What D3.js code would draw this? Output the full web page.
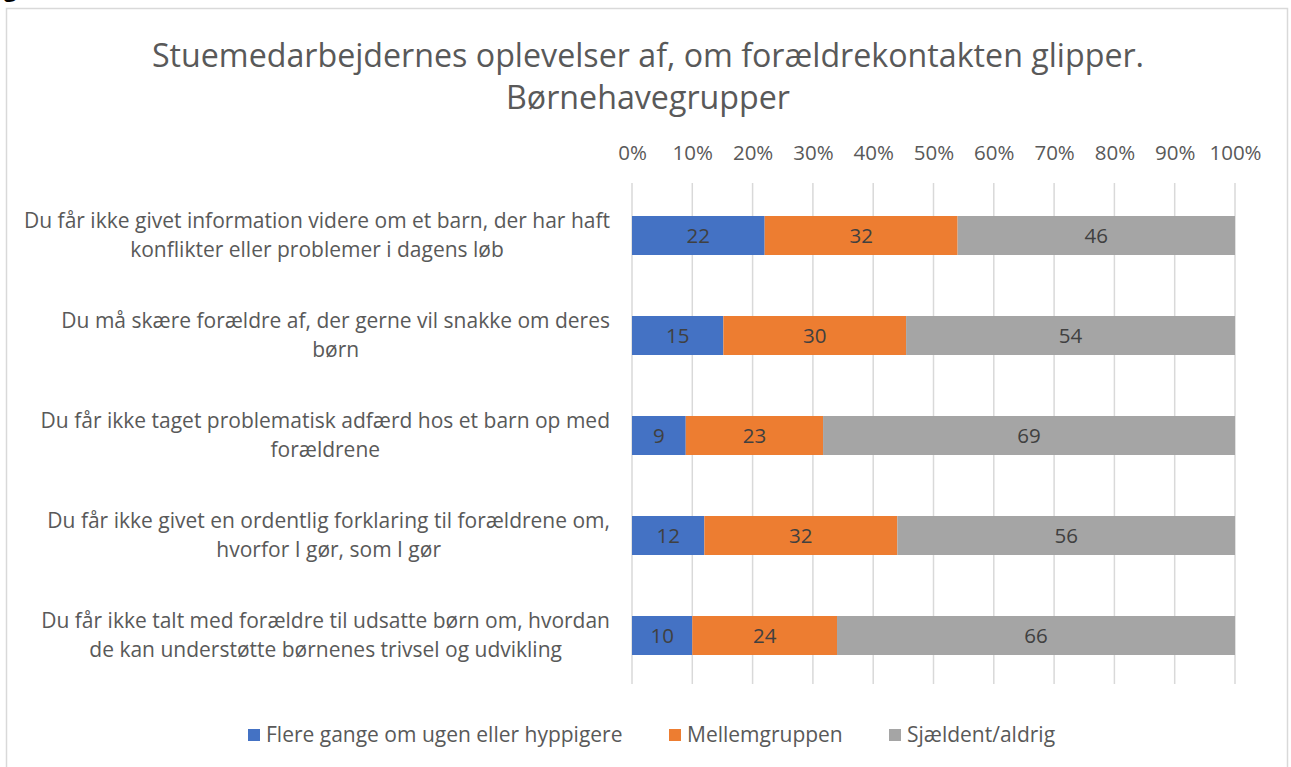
<!DOCTYPE html>
<html>
<head>
<meta charset="utf-8">
<script src="https://cdn.jsdelivr.net/npm/d3@7"></script>
<style>
  body { margin: 0; background: #fff; }
  text { font-family: "Open Sans", "Liberation Sans", Arial, sans-serif; }
</style>
</head>
<body>
<svg id="chart" width="1291" height="767"></svg>
<script>
const categories = [
  ["Du får ikke givet information videre om et barn, der har haft", "konflikter eller problemer i dagens løb"],
  ["Du må skære forældre af, der gerne vil snakke om deres", "børn"],
  ["Du får ikke taget problematisk adfærd hos et barn op med", "forældrene"],
  ["Du får ikke givet en ordentlig forklaring til forældrene om,", "hvorfor I gør, som I gør"],
  ["Du får ikke talt med forældre til udsatte børn om, hvordan", "de kan understøtte børnenes trivsel og udvikling"]
];
const seriesNames = ["Flere gange om ugen eller hyppigere", "Mellemgruppen", "Sjældent/aldrig"];
const often = [22, 15, 9, 12, 10];
const middle = [32, 30, 23, 32, 24];
const rarely = [46, 54, 69, 56, 66];
const ticks = [0, 0.1, 0.2, 0.3, 0.4, 0.5, 0.6, 0.7, 0.8, 0.9, 1];
const colors = ["#4472c4", "#ed7d31", "#a5a5a5"];

const svg = d3.select("#chart");

// outer frame
svg.append("rect").attr("x", 6.5).attr("y", 8.5).attr("width", 1281).attr("height", 780)
  .attr("fill", "#fff").attr("stroke", "#d9d9d9").attr("stroke-width", 1.5);

// cut-off caption above the frame
svg.append("text").attr("x", 4).attr("y", -3).attr("font-size", 22).attr("font-weight", "bold")
  .attr("fill", "#000").text("g");

// title
const title = svg.append("text").attr("text-anchor", "middle").attr("fill", "#595959").attr("font-size", 32.2);
title.append("tspan").attr("x", 648).attr("y", 67).text("Stuemedarbejdernes oplevelser af, om forældrekontakten glipper.");
title.append("tspan").attr("x", 648).attr("y", 109).text("Børnehavegrupper");

const rows = categories.map((c, i) => ({ idx: i, s0: often[i], s1: middle[i], s2: rarely[i] }));
const stack = d3.stack().keys(["s0", "s1", "s2"]).offset(d3.stackOffsetExpand);
const stacked = stack(rows);

const x = d3.scaleLinear().domain([0, 1]).range([632, 1235]);
const y = d3.scaleBand().domain(d3.range(categories.length)).range([185, 686]).paddingInner(0.61).paddingOuter(0.31);

// gridlines
svg.append("g").selectAll("line").data(ticks).join("line")
  .attr("x1", d => x(d)).attr("x2", d => x(d))
  .attr("y1", 183).attr("y2", 684)
  .attr("stroke", "#d9d9d9").attr("stroke-width", 1.5);

// top axis labels
const axis = d3.axisTop(x).tickValues(ticks).tickFormat(d3.format(".0%")).tickSize(0);
const ag = svg.append("g").attr("transform", "translate(0,163)").call(axis);
ag.select(".domain").remove();
ag.selectAll("text").attr("fill", "#595959").attr("font-size", 20.5).attr("dy", 0)
  .style("font-family", "'Open Sans', 'Liberation Sans', Arial, sans-serif");

// bars
const layers = svg.append("g").selectAll("g").data(stacked).join("g").attr("fill", (d, i) => colors[i]);
layers.selectAll("rect").data(d => d).join("rect")
  .attr("x", d => x(d[0])).attr("width", d => x(d[1]) - x(d[0]))
  .attr("y", d => y(d.data.idx)).attr("height", y.bandwidth());

// data labels
stacked.forEach((layer, si) => {
  svg.append("g").selectAll("text").data(layer).join("text")
    .attr("x", d => (x(d[0]) + x(d[1])) / 2)
    .attr("y", d => y(d.data.idx) + y.bandwidth() / 2 + 7.5)
    .attr("text-anchor", "middle").attr("font-size", 20.5).attr("fill", "#404040")
    .text(d => d.data["s" + si]);
});

// category labels, second line centred under the first
const cat = svg.append("g").selectAll("text").data(categories).join("text")
  .attr("font-size", 21).attr("fill", "#595959");
cat.each(function (lines, i) {
  const cy = y(i) + y.bandwidth() / 2;
  const t = d3.select(this);
  const first = t.append("tspan").attr("text-anchor", "end").attr("x", 610).attr("y", cy - 8).text(lines[0]);
  const w1 = first.node().getComputedTextLength();
  t.append("tspan").attr("text-anchor", "middle").attr("x", 610 - w1 / 2).attr("y", cy + 21).text(lines[1]);
});

// legend
const legendX = [248, 669, 889];
const lg = svg.append("g").selectAll("g").data(seriesNames).join("g")
  .attr("transform", (d, i) => `translate(${legendX[i]},729)`);
lg.append("rect").attr("width", 12).attr("height", 12).attr("fill", (d, i) => colors[i]);
lg.append("text").attr("x", 18).attr("y", 13).attr("font-size", 21).attr("fill", "#595959").text(d => d);
</script>
</body>
</html>
